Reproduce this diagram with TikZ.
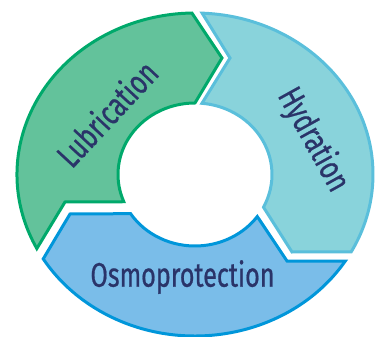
\documentclass[tikz,border=0pt]{standalone}
\usepackage{fontspec}
\newfontfamily\cyclefont[FakeBold=0.8]{Fira Sans}
\definecolor{lubfill}{RGB}{99,194,155}
\definecolor{lubline}{RGB}{0,169,107}
\definecolor{hydfill}{RGB}{137,211,219}
\definecolor{hydline}{RGB}{90,191,219}
\definecolor{osmfill}{RGB}{122,189,233}
\definecolor{osmline}{RGB}{0,150,218}
\definecolor{labelink}{RGB}{42,52,105}
% condensed label text
\newcommand{\narrowtext}[1]{\scalebox{0.74}[1]{#1}}
\begin{document}
\begin{tikzpicture}[x=1pt,y=1pt,
  segment/.style={line width=3pt, line join=miter},
  outer/.style={x radius=178, y radius=161.5},
  inner/.style={x radius=77, y radius=71.5},
  cyclelabel/.style={text=labelink, inner sep=0pt,
    font=\cyclefont\fontsize{34}{34}\selectfont}]
\useasboundingbox (-195,-162.5) rectangle (185,174.5);

% Lubrication: left arc, arrow head pointing right at the top
\draw[segment, draw=lubline, fill=lubfill]
  (207.3:178 and 161.5) arc[outer, start angle=207.3, end angle=91]
  -- (27,116.5) -- (90:77 and 71.5)
  arc[inner, start angle=90, end angle=202.4]
  -- (-130,-27.5) -- cycle;

% Hydration: right arc, arrow head pointing down-left at the bottom
\draw[segment, draw=hydline, fill=hydfill]
  (87.7:178 and 161.5) arc[outer, start angle=87.7, end angle=-28.6]
  -- (97,-77.5) -- (-27.2:77 and 71.5)
  arc[inner, start angle=-27.2, end angle=84.8]
  -- (35,116.5) -- cycle;

% Osmoprotection: bottom arc, arrow head pointing up-left
\draw[segment, draw=osmline, fill=osmfill]
  (-32.4:178 and 161.5) arc[outer, start angle=-32.4, end angle=-148.5]
  -- (-125,-39.5) -- (-146.8:77 and 71.5)
  arc[inner, start angle=-146.8, end angle=-36]
  -- (92,-86.5) -- cycle;

\node[cyclelabel, rotate=47] (lub) at (-88.3,61.2) {\narrowtext{Lubrication}};
\node[cyclelabel, rotate=-61] (hyd) at (118,34.5) {\narrowtext{Hydration}};
\node[cyclelabel, anchor=base] (osm) at (-12.5,-112.2) {\narrowtext{Osmoprotection}};
\end{tikzpicture}
\end{document}
